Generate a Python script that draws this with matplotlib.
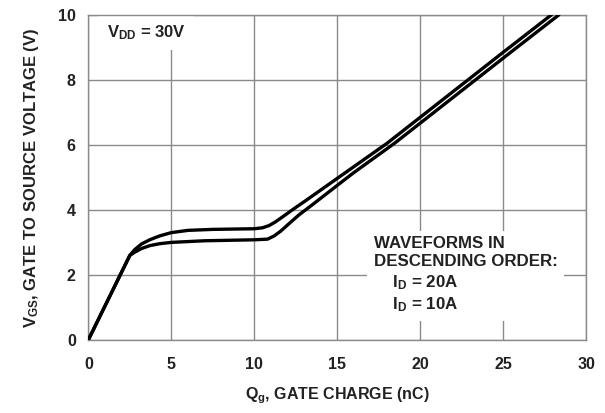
import matplotlib
matplotlib.use("Agg")
import matplotlib.pyplot as plt

plt.rcParams['font.family'] = ['Liberation Sans', 'DejaVu Sans']
plt.rcParams['font.weight'] = 'bold'
plt.rcParams['axes.labelweight'] = 'bold'
plt.rcParams['mathtext.fontset'] = 'custom'
plt.rcParams['mathtext.rm'] = 'Liberation Sans:bold'
plt.rcParams['mathtext.it'] = 'Liberation Sans:bold'
plt.rcParams['mathtext.bf'] = 'Liberation Sans:bold'

# Gate charge (nC) and gate-source voltage (V)
qg_20a = [0, 2.5, 2.8, 3.2, 3.7, 4.3, 5.0, 6.0, 7.5, 10.0, 10.5, 10.9, 11.3, 11.8, 12.4, 13.0,
          15.5, 18.0, 20.0, 22.0, 25.0, 27.9]
vgs_20a = [0, 2.6, 2.78, 2.95, 3.08, 3.2, 3.3, 3.37, 3.4, 3.42, 3.45, 3.52, 3.64, 3.82, 4.04, 4.25,
           5.15, 6.05, 6.85, 7.65, 8.85, 10.0]

qg_10a = [0, 2.5, 2.8, 3.2, 3.7, 4.3, 5.0, 7.0, 10.0, 10.8, 11.2, 11.6, 12.1, 12.7, 13.4,
          15.95, 18.45, 20.45, 22.45, 25.45, 28.35]
vgs_10a = [0, 2.6, 2.7, 2.81, 2.9, 2.96, 3.0, 3.05, 3.08, 3.1, 3.2, 3.35, 3.58, 3.85, 4.12,
           5.13, 6.05, 6.85, 7.65, 8.85, 10.0]

xticks = [0, 5, 10, 15, 20, 25, 30]
yticks = [0, 2, 4, 6, 8, 10]

fig = plt.figure(figsize=(6.05, 4.13), dpi=100)
ax = fig.add_axes([0.146, 0.177, 0.823, 0.787])

ax.plot(qg_20a, vgs_20a, color='black', lw=2.4, solid_joinstyle='round', solid_capstyle='round', zorder=3)
ax.plot(qg_10a, vgs_10a, color='black', lw=2.4, solid_joinstyle='round', solid_capstyle='round', zorder=3)

ax.set_xlim(0, 30)
ax.set_ylim(0, 10)
ax.set_xticks(xticks)
ax.set_yticks(yticks)
ax.tick_params(length=0, labelsize=11.5, labelcolor='#222222')
ax.tick_params(axis='x', pad=12)
ax.tick_params(axis='y', pad=9)
ax.grid(True, color='#8a8a8a', lw=1.0)
ax.set_axisbelow(True)
for s in ax.spines.values():
    s.set_color('#8a8a8a')
    s.set_linewidth(1.0)

ax.set_xlabel(r'Q$_{\mathregular{g}}$, GATE CHARGE (nC)', fontsize=11.5, fontweight='bold',
              color='#222222', labelpad=10)
ax.set_ylabel(r'V$_{\mathregular{GS}}$, GATE TO SOURCE VOLTAGE (V)', fontsize=12, fontweight='bold',
              color='#222222', labelpad=12)

ax.text(1.1, 9.45, r'V$_{\mathregular{DD}}$ = 30V', fontsize=12, color='#222222', va='center', ha='left',
        bbox=dict(facecolor='white', edgecolor='none', pad=6), zorder=2)
ax.text(17.2, 3.2, 'WAVEFORMS IN\nDESCENDING ORDER:\n' + r'    I$_{\mathregular{D}}$ = 20A' + '\n' + r'    I$_{\mathregular{D}}$ = 10A',
        fontsize=12.2, color='#222222', va='top', ha='left', linespacing=1.28,
        bbox=dict(facecolor='white', edgecolor='none', pad=5), zorder=2)

fig.savefig('out.png', dpi=100)
